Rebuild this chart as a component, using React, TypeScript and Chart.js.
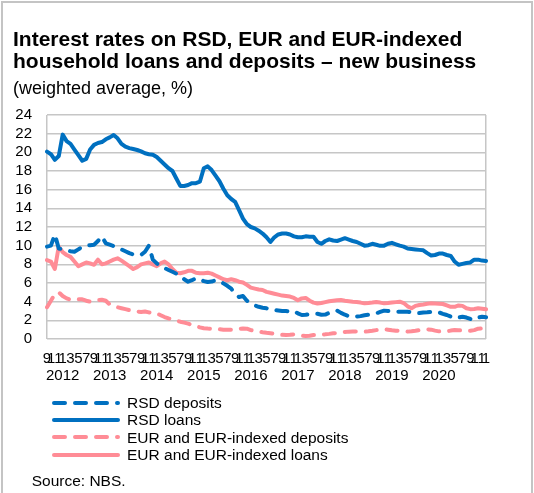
import React, { useEffect, useRef } from 'react';
import { Chart, registerables } from 'chart.js';

Chart.register(...registerables);

const FONT = '"Liberation Sans", Arial, Helvetica, sans-serif';
const BLUE = '#0070C0';
const PINK = '#FF8C96';
const GRID = '#C6C6C6';

// Monthly categories: Sep 2011 – Jan 2021
const firstYear = 2011;
const firstMonth = 9;
const pointCount = 113;
const categories: string[] = Array.from({ length: pointCount }, (_, i) => {
  const t = firstMonth - 1 + i;
  return `${firstYear + Math.floor(t / 12)}-${(t % 12) + 1}`;
});
const yearLabels = ['2012', '2013', '2014', '2015', '2016', '2017', '2018', '2019', '2020'];
const yMin = 0;
const yMax = 24;
const yStep = 2;

const rsdDeposits = [
  9.9, 10.0, 11.2, 9.7, 9.6, 9.5, 9.4, 9.35, 9.6, 9.9,
  10.0, 10.05, 10.1, 10.5, 11.0, 10.25, 10.1, 9.95, 9.85, 9.6,
  9.4, 9.2, 9.05, 9.0, 9.0, 9.35, 10.0, 8.5, 8.1, 7.8,
  7.6, 7.4, 7.2, 7.0, 6.8, 6.4, 6.14, 6.3, 6.5, 6.4,
  6.2, 6.1, 6.15, 6.3, 6.2, 5.96, 5.7, 5.4, 4.8, 4.5,
  4.6, 4.1, 3.85, 3.6, 3.45, 3.35, 3.29, 3.15, 3.1, 3.05,
  3.0, 3.0, 2.95, 3.0, 2.75, 2.57, 2.6, 2.68, 2.72, 2.7,
  2.6, 2.62, 2.8, 2.95, 3.04, 2.8, 2.6, 2.45, 2.39, 2.4,
  2.45, 2.55, 2.6, 2.7, 2.75, 2.9, 3.04, 3.0, 2.95, 2.93,
  2.93, 2.93, 2.92, 2.85, 2.75, 2.78, 2.84, 2.86, 2.9, 2.93,
  2.85, 2.7, 2.57, 2.4, 2.21, 2.3, 2.39, 2.3, 2.15, 2.04,
  2.3, 2.39, 2.32,
];

const rsdLoans = [
  20.07, 19.8, 19.2, 19.6, 21.9, 21.2, 20.9, 20.3, 19.7, 19.1,
  19.3, 20.3, 20.8, 21.0, 21.1, 21.4, 21.6, 21.85, 21.5, 20.9,
  20.6, 20.45, 20.35, 20.25, 20.1, 19.9, 19.8, 19.75, 19.5, 19.1,
  18.7, 18.3, 18.0, 17.2, 16.4, 16.4, 16.5, 16.7, 16.7, 16.85,
  18.3, 18.5, 18.1, 17.5, 16.9, 16.1, 15.4, 15.0, 14.7, 13.8,
  12.9, 12.3, 12.0, 11.85, 11.6, 11.3, 10.9, 10.4, 10.9, 11.2,
  11.3, 11.3, 11.2, 11.0, 10.9, 10.9, 11.0, 10.95, 10.95, 10.4,
  10.2, 10.5, 10.68, 10.55, 10.5, 10.65, 10.8, 10.65, 10.5, 10.4,
  10.2, 10.0, 10.05, 10.2, 10.1, 9.98, 10.0, 10.2, 10.3, 10.15,
  10.0, 9.9, 9.7, 9.65, 9.6, 9.55, 9.5, 9.2, 8.95, 9.0,
  9.15, 9.15, 9.0, 8.9, 8.3, 7.95, 8.05, 8.15, 8.2, 8.5,
  8.5, 8.4, 8.36,
];

const eurDeposits = [
  3.4, 4.1, 4.8, 5.0, 4.6, 4.35, 4.2, 4.2, 4.25, 4.25,
  4.1, 4.0, 4.05, 4.15, 4.2, 4.1, 3.7, 3.5, 3.4, 3.3,
  3.2, 3.1, 3.0, 2.93, 2.9, 2.95, 2.85, 2.8, 2.75, 2.55,
  2.35, 2.2, 2.1, 2.0, 1.85, 1.75, 1.65, 1.5, 1.4, 1.25,
  1.15, 1.12, 1.1, 1.05, 1.04, 1.0, 0.98, 1.0, 1.04, 1.08,
  1.12, 1.1, 0.95, 0.85, 0.79, 0.72, 0.66, 0.61, 0.55, 0.5,
  0.45, 0.43, 0.45, 0.5, 0.45, 0.35, 0.32, 0.35, 0.42, 0.43,
  0.47, 0.5, 0.55, 0.61, 0.65, 0.7, 0.75, 0.79, 0.8, 0.8,
  0.79, 0.79, 0.82, 0.88, 0.95, 1.0, 1.04, 1.0, 0.93, 0.89,
  0.85, 0.82, 0.79, 0.82, 0.88, 0.95, 1.0, 1.04, 1.0, 0.9,
  0.82, 0.79, 0.82, 0.9, 0.96, 0.95, 0.92, 0.9, 0.89, 0.95,
  1.1, 1.14, 1.15,
];

const eurLoans = [
  8.46, 8.3, 7.5, 9.9, 9.3, 9.0, 8.8, 8.3, 7.8, 8.0,
  8.2, 8.1, 7.95, 8.5, 8.0, 8.1, 8.3, 8.5, 8.65, 8.4,
  8.1, 7.8, 7.5, 7.7, 8.0, 8.1, 8.2, 8.0, 7.8, 8.1,
  8.3, 8.0, 7.5, 7.1, 7.05, 7.15, 7.3, 7.3, 7.1, 7.04,
  7.05, 7.1, 7.0, 6.8, 6.6, 6.4, 6.3, 6.4, 6.3, 6.14,
  6.05, 5.8, 5.5, 5.4, 5.3, 5.25, 5.05, 4.95, 4.85, 4.75,
  4.65, 4.6, 4.55, 4.4, 4.15, 4.35, 4.4, 4.1, 3.9, 3.8,
  3.85, 3.95, 4.05, 4.1, 4.15, 4.18, 4.1, 4.05, 4.0, 3.96,
  3.9, 3.82, 3.85, 3.9, 3.96, 3.9, 3.82, 3.85, 3.9, 3.95,
  4.0, 3.85, 3.5, 3.3, 3.55, 3.65, 3.7, 3.78, 3.82, 3.8,
  3.78, 3.75, 3.6, 3.45, 3.45, 3.6, 3.55, 3.3, 3.2, 3.22,
  3.29, 3.25, 3.18,
];

const seriesNames = [
  'RSD deposits',
  'RSD loans',
  'EUR and EUR-indexed deposits',
  'EUR and EUR-indexed loans',
];
const seriesColors = [BLUE, BLUE, PINK, PINK];
const seriesDashed = [true, false, true, false];
const seriesData = [rsdDeposits, rsdLoans, eurDeposits, eurLoans];

const DASH = [11, 10];

function LegendSample({ color, dashed }: { color: string; dashed: boolean }) {
  return (
    <svg width={72} height={10} style={{ display: 'block' }}>
      <line
        x1={4}
        y1={5}
        x2={68}
        y2={5}
        stroke={color}
        strokeWidth={4}
        strokeLinecap="round"
        strokeDasharray={dashed ? DASH.join(' ') : undefined}
      />
    </svg>
  );
}

export default function App() {
  const canvasRef = useRef<HTMLCanvasElement | null>(null);

  useEffect(() => {
    const canvas = canvasRef.current;
    if (!canvas) return;
    const chart = new Chart(canvas, {
      type: 'line',
      data: {
        labels: categories,
        datasets: seriesData.map((d, k) => ({
          label: seriesNames[k],
          data: d,
          borderColor: seriesColors[k],
          backgroundColor: seriesColors[k],
          borderWidth: 4,
          borderDash: seriesDashed[k] ? DASH : [],
          borderCapStyle: 'round' as const,
          borderJoinStyle: 'round' as const,
          pointRadius: 0,
          tension: 0,
          fill: false,
        })),
      },
      options: {
        responsive: false,
        animation: false,
        devicePixelRatio: 1,
        layout: { padding: { left: 0, right: 48, top: 115, bottom: 0 } },
        plugins: {
          legend: { display: false },
          tooltip: { enabled: false },
          title: { display: false },
        },
        scales: {
          x: {
            type: 'category',
            offset: false,
            border: { display: false },
            grid: {
              drawTicks: false,
              lineWidth: 1.5,
              color: (ctx: any) =>
                ctx.index === 0 || ctx.index === pointCount - 1 ? GRID : 'rgba(0,0,0,0)',
            },
            ticks: {
              autoSkip: false,
              maxRotation: 0,
              minRotation: 0,
              padding: 11,
              color: '#000',
              font: { family: FONT, size: 15, lineHeight: 1.15 },
              callback: (_v: any, index: number) => {
                const [y, m] = categories[index].split('-');
                if (Number(m) % 2 === 0) return '';
                if (m === '1' && yearLabels.includes(y)) return [m, y];
                return m;
              },
            },
            afterFit: (scale: any) => {
              scale.height = 56;
            },
          },
          y: {
            min: yMin,
            max: yMax,
            border: { display: false },
            grid: { drawTicks: false, color: GRID, lineWidth: 1.5 },
            ticks: {
              stepSize: yStep,
              autoSkip: false,
              padding: 15,
              color: '#000',
              font: { family: FONT, size: 15 },
            },
            afterFit: (scale: any) => {
              scale.width = 47;
            },
          },
        },
      },
    });
    return () => chart.destroy();
  }, []);

  return (
    <div
      style={{
        position: 'absolute',
        left: 0,
        top: 0,
        width: 534,
        height: 493,
        background: '#fff',
        overflow: 'hidden',
        fontFamily: FONT,
        color: '#000',
      }}
    >
      <div
        style={{
          position: 'absolute',
          left: 1,
          top: 1,
          width: 528,
          height: 510,
          border: '2px solid #C4C4C4',
        }}
      />
      <canvas
        ref={canvasRef}
        width={534}
        height={395}
        style={{ position: 'absolute', left: 0, top: 0, width: 534, height: 395 }}
      />
      <div
        style={{
          position: 'absolute',
          left: 13,
          top: 28.4,
          fontSize: 21,
          lineHeight: '21.7px',
          fontWeight: 'bold',
          whiteSpace: 'nowrap',
        }}
      >
        <div>Interest rates on RSD, EUR and EUR-indexed</div>
        <div>household loans and deposits – new business</div>
      </div>
      <div
        style={{
          position: 'absolute',
          left: 13,
          top: 78.8,
          fontSize: 18,
          lineHeight: '18px',
          whiteSpace: 'nowrap',
        }}
      >
        (weighted average, %)
      </div>
      <div style={{ position: 'absolute', left: 50, top: 394, fontSize: 15.5 }}>
        {seriesNames.map((name, k) => (
          <div
            key={name}
            style={{ display: 'flex', alignItems: 'center', height: 17.4, lineHeight: '17.4px' }}
          >
            <LegendSample color={seriesColors[k]} dashed={seriesDashed[k]} />
            <span style={{ marginLeft: 5, whiteSpace: 'nowrap' }}>{name}</span>
          </div>
        ))}
      </div>
      <div
        style={{
          position: 'absolute',
          left: 31.7,
          top: 471.5,
          fontSize: 15.5,
          lineHeight: '17.4px',
          whiteSpace: 'nowrap',
        }}
      >
        Source: NBS.
      </div>
    </div>
  );
}
